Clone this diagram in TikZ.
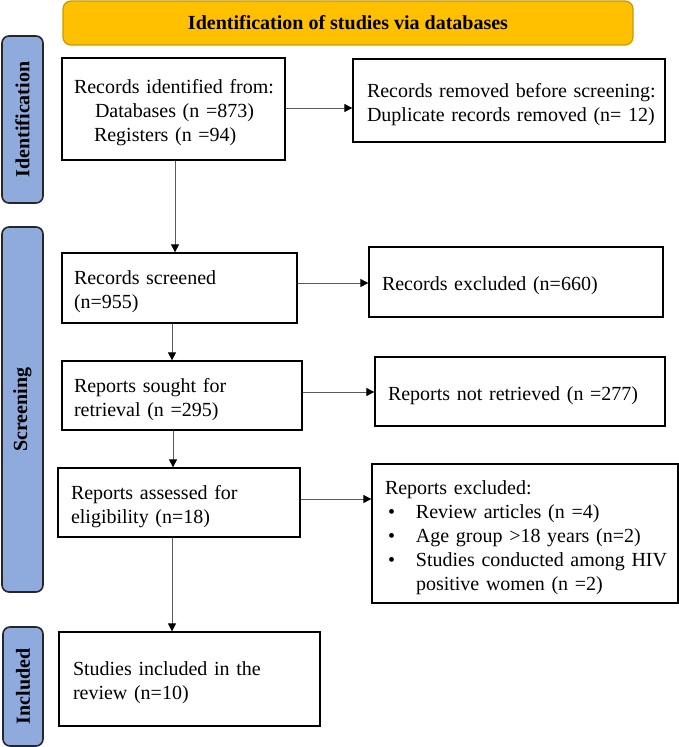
\documentclass[tikz,border=0pt]{standalone}
\usepackage{fontspec}
\setmainfont{Liberation Serif}
\usetikzlibrary{arrows.meta,calc}
\definecolor{gold}{HTML}{FFC000}
\definecolor{golddark}{HTML}{C89B00}
\definecolor{sideblue}{HTML}{8FAADC}
\definecolor{linegray}{HTML}{5A5A5A}
\newcommand\mytopstrut{\rule{0pt}{22pt}}
\begin{document}
\begin{tikzpicture}[x=1pt,y=-1pt,
  txt/.style={font=\fontsize{20}{24}\selectfont},
  box/.style={draw=black,line width=1.3pt,align=left,inner ysep=0pt,txt},
  side/.style={draw=black!85,line width=1.6pt,fill=sideblue,rounded corners=7pt,inner sep=0pt,rotate=90,font=\fontsize{20}{24}\selectfont\bfseries},
  arr/.style={draw=linegray,line width=1pt,-{Triangle[length=8pt,width=8pt,color=black,fill=black]}}
]
\useasboundingbox (0,0) rectangle (679,747);

% banner
\node[draw=golddark,fill=gold,line width=1.3pt,rounded corners=8pt,minimum width=570pt,minimum height=44pt,inner sep=0pt,font=\fontsize{20}{24}\selectfont\bfseries] (banner) at (348,23) {Identification of studies via databases};

% side labels
\node[side,minimum width=167pt,minimum height=41pt] (sideid) at (22.5,119.5) {Identification};
\node[side,minimum width=365pt,minimum height=41pt] (sidescr) at (22.5,409.5) {Screening};
\node[side,minimum width=119pt,minimum height=40pt] (sideinc) at (23,686.5) {Included};

% boxes
\node[box,inner xsep=12pt,text width=199pt,minimum height=102pt] (ident) at (173.5,109)
  {\mbox{\mytopstrut Records identified from:}\\\mbox{\hspace*{21pt}Databases (n =873)}\\\mbox{\hspace*{20pt}Registers (n =94)}};
\node[box,inner xsep=14pt,text width=284pt,minimum height=83pt] (removed) at (509,100.5)
  {\mbox{\mytopstrut Records removed before screening:}\\\mbox{Duplicate records removed (n= 12)}};
\node[box,inner xsep=12pt,text width=211pt,minimum height=70pt] (screened) at (179.5,288)
  {\mbox{\mytopstrut Records screened}\\\mbox{(n=955)}};
\node[box,inner xsep=13pt,text width=268pt,minimum height=70pt] (excluded) at (516,282)
  {\mbox{\mytopstrut Records excluded (n=660)}};
\node[box,inner xsep=12pt,text width=216pt,minimum height=69pt] (sought) at (182,395.5)
  {\mbox{\mytopstrut Reports sought for}\\\mbox{retrieval (n =295)}};
\node[box,inner xsep=13pt,text width=264pt,minimum height=69pt] (notretr) at (520,391.5)
  {\mbox{\mytopstrut Reports not retrieved (n =277)}};
\node[box,inner xsep=13pt,text width=216pt,minimum height=69pt] (assessed) at (179,502.5)
  {\mbox{\mytopstrut Reports assessed for}\\\mbox{eligibility (n=18)}};
\node[box,inner xsep=13pt,text width=280pt,minimum height=139pt] (repexcl) at (525,533.5)
  {\mbox{\mytopstrut Reports excluded:}\\
   \mbox{\makebox[31pt][l]{\hspace*{3pt}\textbullet}Review articles (n =4)}\\
   \mbox{\makebox[31pt][l]{\hspace*{3pt}\textbullet}Age group >18 years (n=2)}\\
   \mbox{\makebox[31pt][l]{\hspace*{3pt}\textbullet}Studies conducted among HIV}\\
   \mbox{\hspace*{31pt}positive women (n =2)}};
\node[box,inner xsep=14pt,text width=233pt,minimum height=94pt] (included) at (189.5,679)
  {\mbox{\mytopstrut Studies included in the}\\\mbox{review (n=10)}};

% connectors
\draw[arr] ([yshift=1pt]ident.east) -- ([yshift=1pt]ident.east -| removed.west);
\draw[arr] ([xshift=1.5pt]ident.south) -- ([xshift=1.5pt]ident.south |- screened.north);
\draw[arr] ([yshift=5pt]screened.east) -- ([yshift=5pt]screened.east -| excluded.west);
\draw[arr] ([xshift=-7.5pt]screened.south) -- ([xshift=-7.5pt]screened.south |- sought.north);
\draw[arr] ([yshift=3.5pt]sought.east) -- ([yshift=3.5pt]sought.east -| notretr.west);
\draw[arr] ([xshift=-9pt]sought.south) -- ([xshift=-9pt]sought.south |- assessed.north);
\draw[arr] ([yshift=3.5pt]assessed.east) -- ([yshift=3.5pt]assessed.east -| repexcl.west);
\draw[arr] ([xshift=-7pt]assessed.south) -- ([xshift=-7pt]assessed.south |- included.north);
\end{tikzpicture}
\end{document}
